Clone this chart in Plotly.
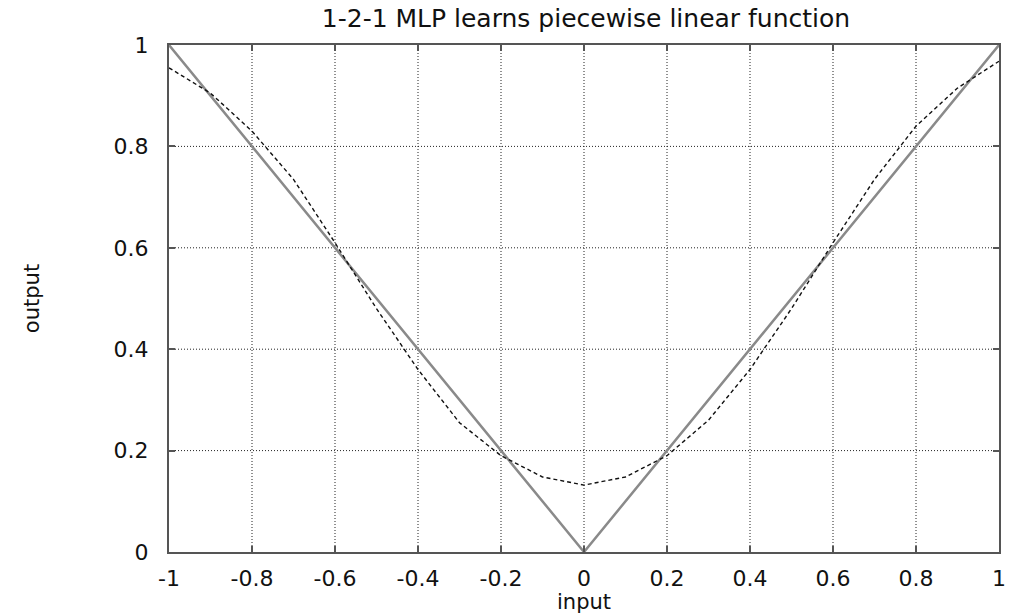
import plotly.graph_objects as go

# Target function: |x| sampled at its breakpoints
target_x = [-1.0, 0.0, 1.0]
target_y = [1.0, 0.0, 1.0]

# Network output sampled every 0.1 over the input range
net_x = [-1.0, -0.9, -0.8, -0.7, -0.6, -0.5, -0.4, -0.3, -0.2, -0.1, 0.0,
         0.1, 0.2, 0.3, 0.4, 0.5, 0.6, 0.7, 0.8, 0.9, 1.0]
net_y = [0.955, 0.905, 0.83, 0.735, 0.61, 0.48, 0.36, 0.255, 0.19, 0.148, 0.132,
         0.148, 0.19, 0.26, 0.36, 0.48, 0.61, 0.735, 0.84, 0.915, 0.968]

x_ticks = [-1, -0.8, -0.6, -0.4, -0.2, 0, 0.2, 0.4, 0.6, 0.8, 1]
x_labels = ["-1", "-0.8", "-0.6", "-0.4", "-0.2", "0", "0.2", "0.4", "0.6", "0.8", "1"]
y_ticks = [0, 0.2, 0.4, 0.6, 0.8, 1]
y_labels = ["0", "0.2", "0.4", "0.6", "0.8", "1"]

FONT = "DejaVu Sans, Verdana, sans-serif"
INK = "#111111"

fig = go.Figure()
fig.add_trace(go.Scatter(x=target_x, y=target_y, mode="lines",
                         line=dict(color="#8a8a8a", width=2.5), showlegend=False))
fig.add_trace(go.Scatter(x=net_x, y=net_y, mode="lines",
                         line=dict(color=INK, width=1.4, dash="4px,3px"),
                         showlegend=False))

# Dotted grid lines drawn as shapes
for xv in x_ticks[1:-1]:
    fig.add_shape(type="line", x0=xv, x1=xv, y0=0, y1=1, xref="x", yref="y",
                  line=dict(color="#222222", width=1, dash="1px,2px"), layer="below")
for yv in y_ticks[1:-1]:
    fig.add_shape(type="line", x0=-1, x1=1, y0=yv, y1=yv, xref="x", yref="y",
                  line=dict(color="#222222", width=1, dash="1px,2px"), layer="below")

axis_common = dict(showgrid=False, zeroline=False, showline=True, linecolor="#555555",
                   linewidth=2, mirror="ticks", ticks="inside", ticklen=6,
                   tickcolor="#555555", tickwidth=1.5,
                   tickfont=dict(family=FONT, size=22, color=INK))

fig.update_xaxes(range=[-1, 1], tickvals=x_ticks, ticktext=x_labels,
                 ticklabelstandoff=6, ticklabeloverflow="allow",
                 title=dict(text="input", font=dict(family=FONT, size=21, color=INK),
                            standoff=2), **axis_common)
fig.update_yaxes(range=[0, 1], tickvals=y_ticks, ticktext=y_labels,
                 ticklabelstandoff=14,
                 title=dict(text="output", font=dict(family=FONT, size=21, color=INK),
                            standoff=68), **axis_common)

fig.update_layout(
    width=1011, height=614,
    margin=dict(l=169, r=5, t=45, b=62),
    plot_bgcolor="white", paper_bgcolor="white",
    title=dict(text="1-2-1 MLP learns piecewise linear function",
               font=dict(family=FONT, size=25, color=INK),
               x=586 / 1011, xanchor="center", y=1 - 18 / 614, yanchor="middle"),
)

fig.write_html("out.html")
